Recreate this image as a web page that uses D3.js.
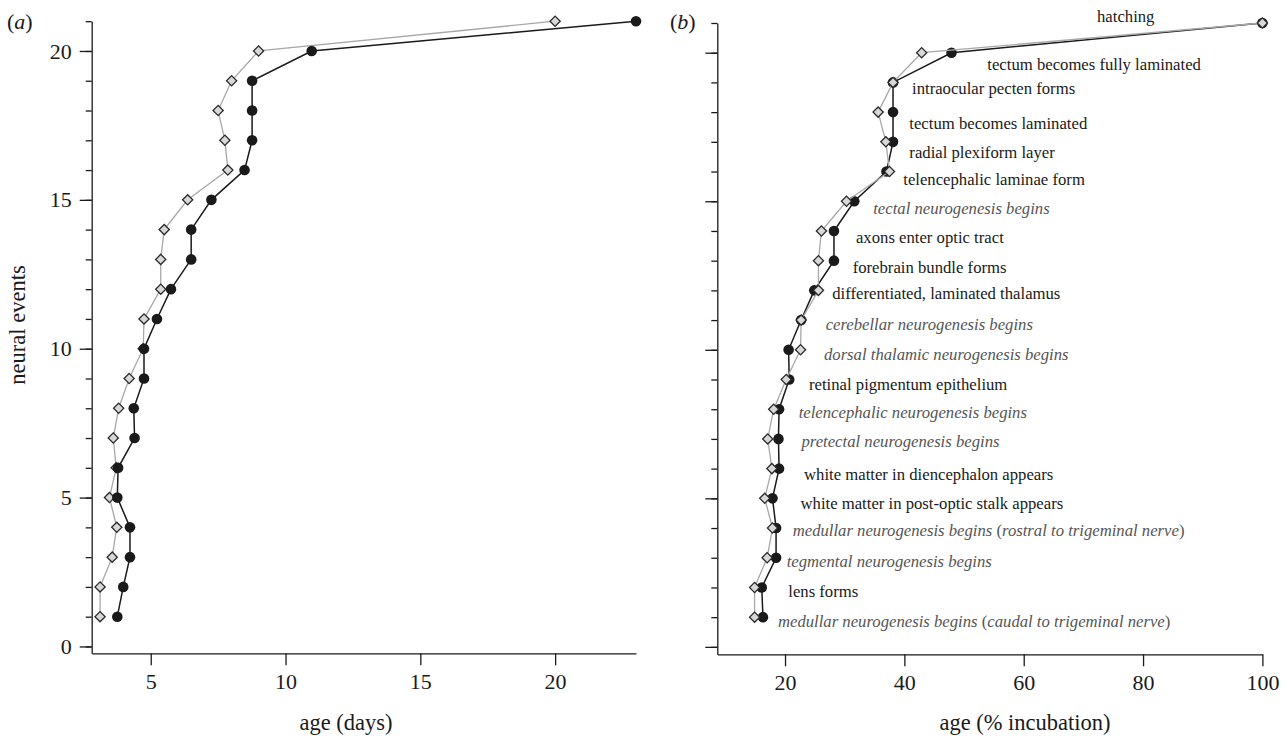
<!DOCTYPE html>
<html><head><meta charset="utf-8">
<script src="https://cdn.jsdelivr.net/npm/d3@7"></script>
<style>
body{margin:0;background:#fff}
svg{display:block}
text{font-family:"Liberation Serif","Times New Roman",serif}
</style>
</head><body>
<svg id="c" width="1286" height="738"></svg>
<script>
// ---------- data ----------
const events = [1,2,3,4,5,6,7,8,9,10,11,12,13,14,15,16,17,18,19,20,21];
// panel (a): age in days
const daysBlack = [3.76,3.98,4.23,4.23,3.76,3.79,4.40,4.37,4.75,4.75,5.23,5.75,6.50,6.50,7.25,8.48,8.76,8.76,8.76,10.97,23];
const daysGrey  = [3.12,3.12,3.57,3.74,3.47,3.72,3.61,3.81,4.20,4.72,4.75,5.37,5.37,5.50,6.37,7.86,7.75,7.50,8.00,9.00,20];
// panel (b): age in % incubation
const pctBlack = [16.3,16.1,18.5,18.5,17.9,19.0,18.9,19.0,20.7,20.6,22.7,24.9,28.2,28.2,31.6,37.0,38.1,38.1,38.1,47.9,100];
const pctGrey  = [14.9,14.9,17.0,17.9,16.6,17.8,17.1,18.1,20.2,22.6,22.7,25.6,25.6,26.1,30.3,37.5,36.9,35.6,38.1,42.9,100];
const eventLabels = [
  "medullar neurogenesis begins (caudal to trigeminal nerve)",
  "lens forms",
  "tegmental neurogenesis begins",
  "medullar neurogenesis begins (rostral to trigeminal nerve)",
  "white matter in post-optic stalk appears",
  "white matter in diencephalon appears",
  "pretectal neurogenesis begins",
  "telencephalic neurogenesis begins",
  "retinal pigmentum epithelium",
  "dorsal thalamic neurogenesis begins",
  "cerebellar neurogenesis begins",
  "differentiated, laminated thalamus",
  "forebrain bundle forms",
  "axons enter optic tract",
  "tectal neurogenesis begins",
  "telencephalic laminae form",
  "radial plexiform layer",
  "tectum becomes laminated",
  "intraocular pecten forms",
  "tectum becomes fully laminated",
  "hatching"
];
const labelItalic = [true,false,true,true,false,false,true,true,false,true,true,false,false,false,true,false,false,false,false,false,false];
const yMajorTicks = [0,5,10,15,20];
const yMinorTicks = [0,1,2,3,4,5,6,7,8,9,10,11,12,13,14,15,16,17,18,19,20,21];
const xTicksA = [5,10,15,20];
const xTicksB = [20,40,60,80,100];

// ---------- layout (label nudges, px) ----------
const labelDx = [15,26.5,10.6,16.6,28,25,23,19.6,19.8,23.4,24.5,13.8,18.7,22,19,13.8,16.3,16.3,19,35.8,-165.4];
const labelDy = [9.7,9.4,9,8,11,11.5,8,9,10.6,10,10,9,12,12.4,13,13.5,16,17,12,17.3,-1.3];

const svg = d3.select("#c");
const INK = "#1a1a1a", GREYLINE = "#a8a8a8", GREYFILL = "#d8d8d8", ITAL = "#555555";

const xA = d3.scaleLinear().domain([2.81, 23]).range([91.7, 636]);
const yA = d3.scaleLinear().domain([-0.23, 21]).range([653.3, 21.2]);
const xB = d3.scaleLinear().domain([8.65, 100]).range([717.3, 1262.4]);
const yB = d3.scaleLinear().domain([-0.25, 21]).range([654.3, 23]);

function styleAxis(g){
  g.selectAll("path,line").attr("stroke", INK).attr("stroke-width", 1.3);
  g.selectAll("text").attr("fill", INK).style("font-family",'"Liberation Serif","Times New Roman",serif').style("font-size","22px");
}

function drawAxes(x, y, xTicks, withYLabels){
  const x0 = x.range()[0], y0 = y.range()[0];
  svg.append("g").attr("transform",`translate(${x0},0)`)
    .call(d3.axisLeft(y).tickValues(yMinorTicks).tickSize(6).tickSizeOuter(0).tickFormat(""))
    .call(styleAxis);
  const gm = svg.append("g").attr("transform",`translate(${x0},0)`)
    .call(d3.axisLeft(y).tickValues(yMajorTicks).tickSize(12).tickPadding(8).tickSizeOuter(0)
      .tickFormat(withYLabels ? d3.format("d") : ""))
    .call(styleAxis);
  gm.select(".domain").remove();
  svg.append("g").attr("transform",`translate(0,${y0})`)
    .call(d3.axisBottom(x).tickValues(xTicks).tickSize(12).tickPadding(8.3).tickSizeOuter(0).tickFormat(d3.format("d")))
    .call(styleAxis);
}

function drawSeries(x, y, vals, kind){
  const pts = events.map((e,i)=>({e, v: vals[i]}));
  const line = d3.line().x(d=>x(d.v)).y(d=>y(d.e));
  const g = svg.append("g");
  g.append("path").datum(pts).attr("d", line).attr("fill","none")
    .attr("stroke", kind==="black" ? INK : GREYLINE)
    .attr("stroke-width", kind==="black" ? 1.5 : 1.3);
  if(kind==="black"){
    g.selectAll("circle").data(pts).join("circle")
      .attr("cx", d=>x(d.v)).attr("cy", d=>y(d.e)).attr("r", 5.3).attr("fill", INK);
  } else {
    const sym = d3.symbol().type(d3.symbolSquare).size(52);
    g.selectAll("path.m").data(pts).join("path").attr("class","m")
      .attr("d", sym)
      .attr("transform", d=>`translate(${x(d.v)},${y(d.e)}) rotate(45)`)
      .attr("fill", GREYFILL).attr("stroke", "#2a2a2a").attr("stroke-width", 1.3);
  }
}

// ---------- panel (a) ----------
drawAxes(xA, yA, xTicksA, true);
drawSeries(xA, yA, daysGrey, "grey");
drawSeries(xA, yA, daysBlack, "black");

// ---------- panel (b) ----------
drawAxes(xB, yB, xTicksB, false);
drawSeries(xB, yB, pctBlack, "black");
drawSeries(xB, yB, pctGrey, "grey");

// event labels in panel (b)
const lab = svg.append("g").style("font-size","16.7px");
events.forEach((e,i)=>{
  const xm = xB(Math.max(pctBlack[i], pctGrey[i])) + labelDx[i];
  const ym = yB(e) + labelDy[i];
  const t = lab.append("text").attr("x", xm).attr("y", ym)
    .attr("fill", labelItalic[i] ? ITAL : INK);
  const txt = eventLabels[i];
  if(labelItalic[i]){
    const parts = txt.split(/([()])/);
    parts.forEach(p=>{
      if(p==="") return;
      t.append("tspan").text(p).attr("font-style", (p==="("||p===")") ? "normal" : "italic");
    });
  } else {
    t.text(txt);
  }
});

// axis titles
svg.append("text").attr("x", 346).attr("y", 730).attr("text-anchor","middle")
  .style("font-size","22.5px").attr("fill", INK).text("age (days)");
svg.append("text").attr("x", 1025).attr("y", 730).attr("text-anchor","middle")
  .style("font-size","22.5px").attr("fill", INK).text("age (% incubation)");
svg.append("text").attr("transform","translate(25,325) rotate(-90)").attr("text-anchor","middle")
  .style("font-size","22.5px").attr("fill", INK).text("neural events");

// panel letters
function panelLetter(x, y, letter){
  const t = svg.append("text").attr("x", x).attr("y", y).style("font-size","22px").attr("fill", INK);
  t.append("tspan").text("(");
  t.append("tspan").attr("font-style","italic").text(letter);
  t.append("tspan").text(")");
}
panelLetter(7, 29, "a");
panelLetter(670, 29, "b");
</script>
</body></html>
